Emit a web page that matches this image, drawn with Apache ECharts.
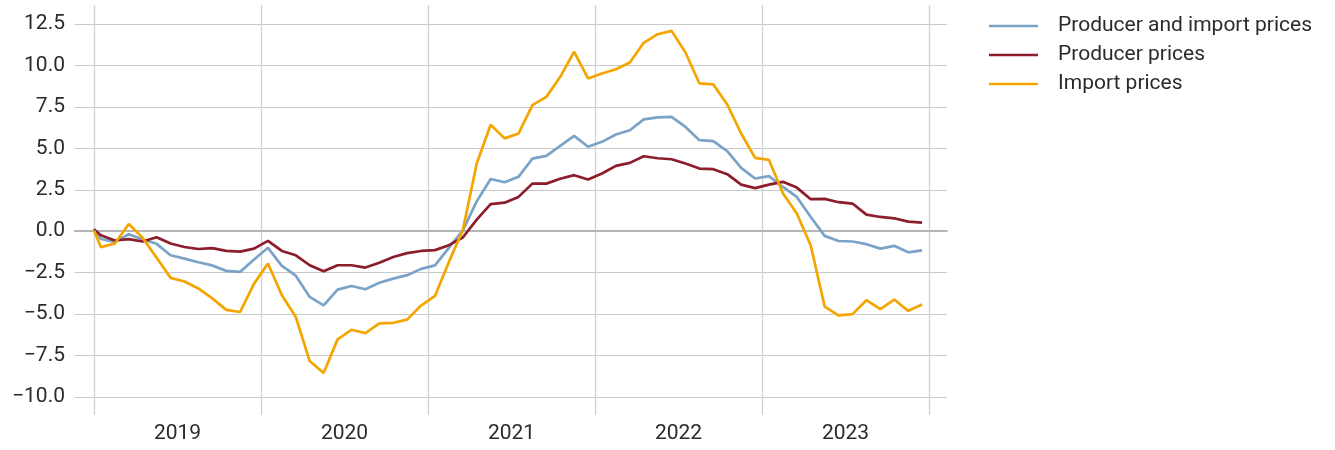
<!DOCTYPE html>
<html><head><meta charset="utf-8">
<script src="https://cdn.jsdelivr.net/npm/echarts@6/dist/echarts.min.js"></script>
<style>html,body{margin:0;padding:0;background:#fff}#c{width:1335px;height:450px}</style>
</head><body><div id="c"></div>
<script>
// Monthly observations, Jan 2019 .. Dec 2023 (plotted mid-month)
const months = [];
for (let y = 2019; y <= 2023; y++) for (let m = 1; m <= 12; m++) months.push(y + '-' + String(m).padStart(2, '0'));

const seriesNames = ['Producer and import prices', 'Producer prices', 'Import prices'];

// Value at the start of the period (1 Jan 2019)
const startValues = [0.15, 0.1, 0.05];

const producerImport = [
  -0.47, -0.64, -0.18, -0.50, -0.76, -1.45, -1.65, -1.87, -2.06, -2.39, -2.45, -1.71,
  -1.00, -2.09, -2.68, -3.96, -4.47, -3.52, -3.30, -3.50, -3.11, -2.86, -2.65, -2.27,
  -2.06, -1.00, 0.05, 1.80, 3.15, 2.95, 3.28, 4.38, 4.54, 5.15, 5.75, 5.09,
  5.39, 5.83, 6.09, 6.74, 6.86, 6.90, 6.29, 5.49, 5.43, 4.83, 3.82, 3.18,
  3.32, 2.67, 2.07, 0.86, -0.28, -0.59, -0.62, -0.78, -1.05, -0.88, -1.27, -1.15
];
const producer = [
  -0.24, -0.56, -0.48, -0.62, -0.36, -0.74, -0.95, -1.07, -1.02, -1.18, -1.23, -1.05,
  -0.58, -1.19, -1.45, -2.05, -2.41, -2.05, -2.05, -2.19, -1.90, -1.55, -1.32, -1.19,
  -1.14, -0.84, -0.38, 0.70, 1.63, 1.72, 2.07, 2.87, 2.87, 3.16, 3.38, 3.12,
  3.48, 3.94, 4.12, 4.52, 4.40, 4.34, 4.08, 3.78, 3.74, 3.44, 2.81, 2.60,
  2.81, 2.98, 2.63, 1.93, 1.95, 1.75, 1.67, 1.00, 0.86, 0.78, 0.58, 0.52
];
const importPrices = [
  -0.96, -0.74, 0.44, -0.40, -1.60, -2.81, -3.03, -3.45, -4.05, -4.74, -4.87, -3.16,
  -1.95, -3.86, -5.17, -7.83, -8.55, -6.52, -5.94, -6.14, -5.56, -5.52, -5.33, -4.48,
  -3.90, -1.85, 0.06, 4.08, 6.42, 5.60, 5.89, 7.60, 8.10, 9.31, 10.82, 9.21,
  9.51, 9.77, 10.17, 11.36, 11.88, 12.08, 10.78, 8.91, 8.85, 7.64, 5.89, 4.42,
  4.30, 2.29, 1.07, -0.86, -4.54, -5.07, -5.00, -4.16, -4.70, -4.12, -4.80, -4.42
];

const yearLabels = ['2019', '2020', '2021', '2022', '2023'];
const yTicks = [-10, -7.5, -5, -2.5, 0, 2.5, 5, 7.5, 10, 12.5];
const colors = ['#7ba3c8', '#8c1d2c', '#f5a500'];

// position in months since 1 Jan 2019, mid-month
function monthPos(label) {
  const [y, m] = label.split('-').map(Number);
  return (y - 2019) * 12 + (m - 1) + 0.5;
}
const yearBounds = yearLabels.map((y, i) => i * 12).concat([yearLabels.length * 12]);
const yearCenters = yearLabels.map((y, i) => i * 12 + 6);

function build(arr, start) {
  return [[0, start]].concat(months.map((l, i) => [monthPos(l), arr[i]]));
}
const allData = [producerImport, producer, importPrices];

const font = 'Roboto, "Liberation Sans", sans-serif';
const chart = echarts.init(document.getElementById('c'), null, {renderer: 'canvas'});
chart.setOption({
  animation: false,
  backgroundColor: '#fff',
  grid: {left: 75, right: 388, top: 5, bottom: 35, containLabel: false},
  legend: {
    orient: 'vertical', left: 984, top: 10.5,
    itemWidth: 49, itemHeight: 21, itemGap: 8,
    icon: 'path://M0,9.25 L49,9.25 L49,11.75 L0,11.75 Z',
    textStyle: {fontSize: 21, color: '#2b2b2b', fontFamily: font, padding: [0, 0, 0, 15]},
    data: seriesNames.map((n, i) => ({name: n, itemStyle: {color: colors[i]}}))
  },
  xAxis: [{
    type: 'value', min: -1.365, max: 61.29,
    axisLine: {show: false, onZero: false},
    axisTick: {show: false, customValues: yearBounds},
    splitLine: {show: true, lineStyle: {color: '#d2d2d2', width: 1.3}},
    axisLabel: {
      customValues: yearCenters,
      formatter: v => yearLabels[Math.round((v - 6) / 12)],
      fontSize: 21, color: '#2b2b2b', fontFamily: font, margin: 8
    }
  }, {
    type: 'value', min: -1.365, max: 61.29, position: 'bottom',
    axisLine: {show: true, onZero: true, lineStyle: {color: '#b5b5b5', width: 2}},
    axisTick: {show: false}, axisLabel: {show: false}, splitLine: {show: false}
  }],
  yAxis: {
    type: 'value', min: -11.08, max: 13.64,
    axisLine: {show: false},
    axisTick: {show: false, customValues: yTicks},
    splitLine: {show: true, lineStyle: {color: '#c9c9c9', width: 1}},
    axisLabel: {
      customValues: yTicks,
      formatter: v => (v < 0 ? '\u2212' : '') + Math.abs(v).toFixed(1),
      fontSize: 21, color: '#2b2b2b', fontFamily: font, margin: 10
    }
  },
  series: seriesNames.map((n, i) => ({
    name: n, type: 'line', xAxisIndex: 0,
    data: build(allData[i], startValues[i]),
    showSymbol: false, symbol: 'none',
    lineStyle: {width: 2.7, color: colors[i]},
    itemStyle: {color: colors[i]},
    z: 3 + i
  }))
});
</script></body></html>
